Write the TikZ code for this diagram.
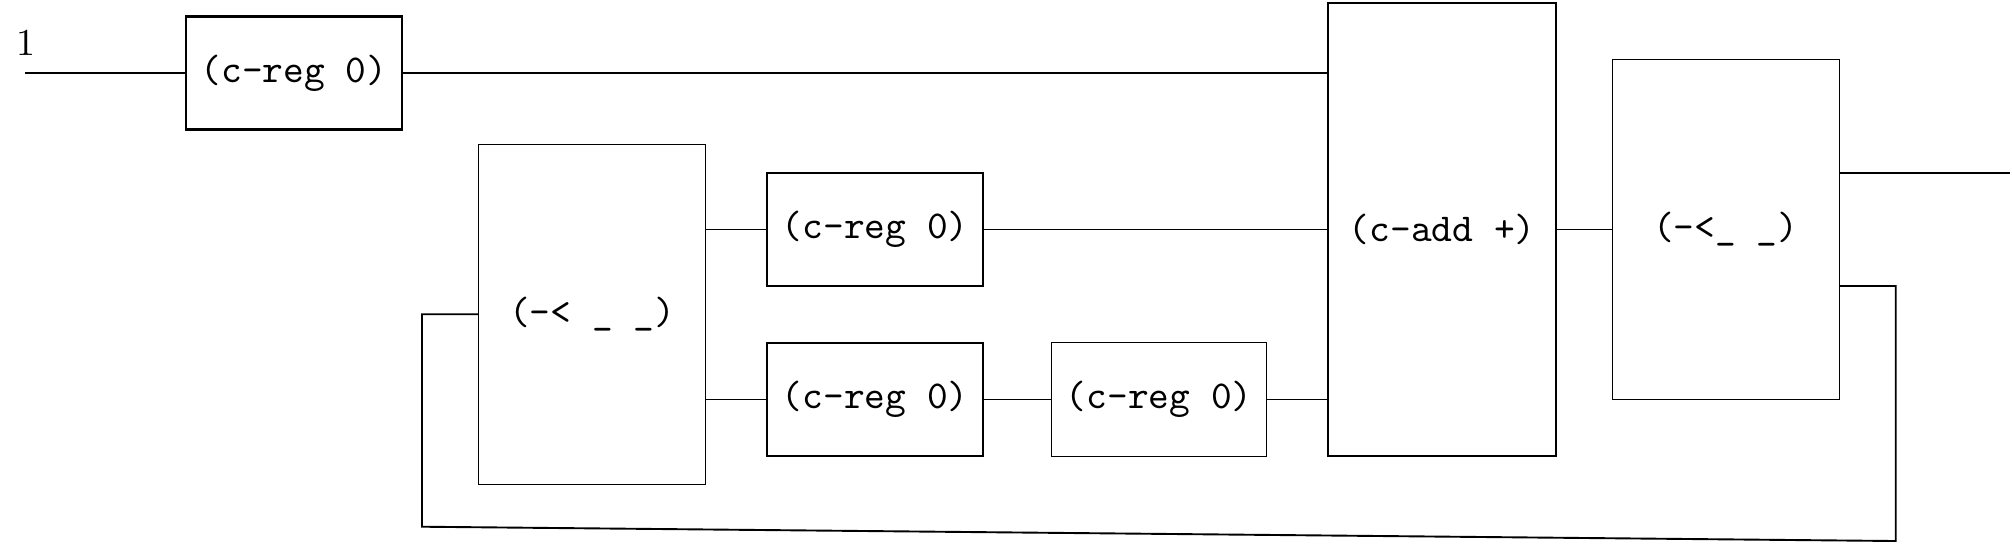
\documentclass[tikz,border=0pt]{standalone}
\newcommand\pxu{0.2632pt}
\begin{document}
\begin{tikzpicture}[x=0.2632pt, y=-0.2632pt,
  blk/.style={draw, rectangle, inner sep=0pt, font=\ttfamily\fontsize{10.4}{12}\selectfont, line width=0.55pt},
  thinblk/.style={blk, line width=0.3pt},
  wire/.style={line width=0.32pt},
  heavywire/.style={line width=0.5pt}]
\useasboundingbox (0,0) rectangle (2012,544);
% nodes
\node[inner sep=0pt] (one) at (25.5,43) {1};
\node[blk, minimum width=216*\pxu, minimum height=113*\pxu] (A) at (294,73) {(c-reg 0)};
\node[thinblk, minimum width=227*\pxu, minimum height=339.7*\pxu] (split1) at (592,314.2) {(-< \_ \_)};
\node[blk, minimum width=216*\pxu, minimum height=113*\pxu] (B) at (875.3,229.2) {(c-reg 0)};
\node[blk, minimum width=216*\pxu, minimum height=113*\pxu] (C) at (875.3,399.2) {(c-reg 0)};
\node[thinblk, minimum width=215*\pxu, minimum height=113.7*\pxu] (D) at (1159.2,399.2) {(c-reg 0)};
\node[blk, minimum width=227.6*\pxu, minimum height=453.3*\pxu] (cadd) at (1442.2,229.2) {(c-add +)};
\node[thinblk, minimum width=227*\pxu, minimum height=339.7*\pxu] (split2) at (1725.8,229.2) {(-<\_ \_)};
% free ends and bends
\coordinate (in) at (25,73);
\coordinate (out) at (2010,172.7);
\coordinate (fb1) at (1895.7,286);
\coordinate (fb2) at (1895.7,541);
\coordinate (fb3) at (422,526.7);
\coordinate (fb4) at (422,314.2);
% wires
\draw[wire] (in) -- (A.west);
\draw[wire] (A.east) -- (A.east -| cadd.west);
\draw[wire] (split1.east |- B.west) -- (B.west);
\draw[wire] (split1.east |- C.west) -- (C.west);
\draw[wire] (B.east) -- (B.east -| cadd.west);
\draw[wire] (C.east) -- (D.west);
\draw[wire] (D.east) -- (D.east -| cadd.west);
\draw[wire] (cadd.east) -- (split2.west);
\draw[heavywire] (split2.east |- out) -- (out);
\draw[heavywire] (split2.east |- fb1) -- (fb1) -- (fb2) -- (fb3) -- (fb4) -- (split1.west);
\end{tikzpicture}
\end{document}
